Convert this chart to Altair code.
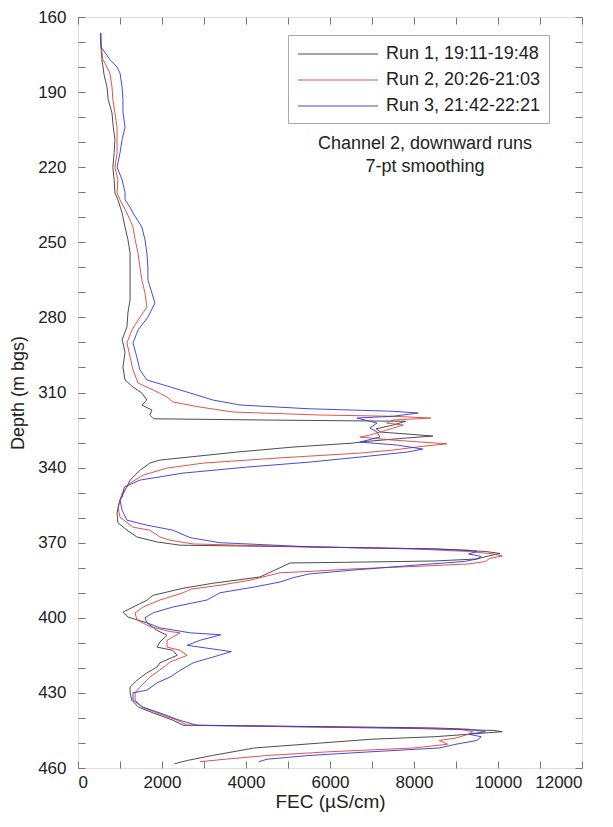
import altair as alt
import pandas as pd

runs = ["Run 1, 19:11-19:48", "Run 2, 20:26-21:03", "Run 3, 21:42-22:21"]
colors = ["#3a3a3a", "#e0403a", "#3434e0"]

# (depth m bgs, FEC uS/cm)
run1 = [(166.4, 540), (171, 545), (177, 570), (183, 620), (188, 690), (193, 720), (198.4, 810),
        (204, 840), (209, 880), (214.3, 860), (220, 830), (225, 860), (230.3, 880), (233, 950),
        (238.3, 1050), (243.9, 1120), (249, 1190), (254.3, 1240), (259.9, 1240), (267.9, 1240),
        (273, 1240), (278, 1190), (283.8, 1165), (289, 1050), (290.2, 1070), (294, 1120),
        (299.8, 1070), (305, 1120), (307.8, 1310), (310.2, 1520), (313, 1640), (315, 1520),
        (317, 1760), (319, 1710), (320.5, 1800), (321, 4500), (321.5, 7800), (323, 7500),
        (324.5, 7100), (325.8, 7200), (326.8, 8000), (327.4, 8450), (328.2, 7800), (329.5, 6900),
        (330.2, 6550), (331.8, 5120), (333.8, 3780), (337, 1950), (338.2, 1710), (341, 1480),
        (345, 1240), (349, 1120), (353, 1000), (358, 930), (362, 950), (365, 1165), (367.7, 1400),
        (369.7, 1880), (371, 2430), (371.7, 5600), (372.5, 8500), (373.5, 9700), (374.3, 10050),
        (375.2, 9800), (376.5, 9500), (377.3, 8500), (377.8, 6500), (378.1, 5050), (380, 4810),
        (383.7, 4330), (386.2, 3210), (388.2, 2500), (391, 1790), (393, 1640), (395.7, 1310),
        (397.8, 1070), (399.7, 1190), (402, 1640), (405, 1880), (407, 2120), (409.7, 1950),
        (411.7, 1880), (413, 2260), (415, 2360), (418, 1950), (419.7, 1880), (422, 1640),
        (425, 1400), (427.7, 1240), (430, 1240), (432.9, 1280), (435.7, 1440), (438, 1790),
        (440.9, 2260), (442.9, 2500), (443.5, 5000), (444.2, 8000), (445, 9900), (445.5, 10100),
        (446.5, 9300), (447.5, 8500), (448.5, 7000), (450, 5800), (452, 4200), (455, 3200),
        (457, 2600), (458.3, 2300)]

run2 = [(166.4, 540), (171, 545), (177, 590), (178.4, 640), (182.4, 760), (188, 810), (193, 830),
        (198.4, 880), (204, 930), (209, 930), (214.3, 930), (220, 880), (225, 950), (230.3, 930),
        (233, 1000), (238.3, 1165), (243.9, 1310), (249, 1360), (254.3, 1430), (259.9, 1475),
        (265, 1520), (270.3, 1595), (275.9, 1640), (279.9, 1475), (285, 1285), (290.2, 1165),
        (295.8, 1240), (301, 1310), (306.2, 1430), (309, 1790), (311.8, 2120), (313.8, 2260),
        (315.8, 2900), (317.8, 3690), (319, 5760), (319.5, 7500), (320.2, 8400), (321, 7500),
        (322.2, 7350), (323, 7740), (325, 7350), (327, 6950), (327.8, 6710), (329, 7500),
        (330.5, 8780), (331.5, 8200), (333, 7500), (334.2, 6710), (336.2, 4740), (338.2, 2980),
        (340.2, 2120), (343, 1550), (346.2, 1240), (350.2, 1050), (355.8, 950), (359.8, 1000),
        (363.8, 1310), (365, 1710), (367.7, 1950), (369, 2190), (370.5, 2740), (371.5, 5000),
        (372.5, 8000), (373.5, 9300), (374.5, 9900), (375.3, 10100), (376.3, 9800), (377.5, 9700),
        (378.5, 9300), (379.5, 8000), (380.5, 6500), (381.5, 5500), (382, 4810), (384, 4330),
        (385, 4090), (387, 3380), (388.5, 2700), (390, 2500), (392.9, 1950), (395.7, 1550),
        (398, 1360), (400.8, 1400), (403.5, 1710), (405.5, 2190), (406, 2430), (409, 2120),
        (411.7, 2120), (413, 2430), (415, 2600), (417.7, 2190), (420, 2020), (423.7, 1710),
        (427.7, 1475), (430, 1360), (432.9, 1360), (435.7, 1520), (438, 1880), (440.9, 2360),
        (442.9, 2600), (443.5, 5500), (444, 8000), (444.5, 9100), (445.5, 9400), (446.5, 9300),
        (448, 9000), (449, 8600), (450.5, 8800), (452, 8000), (453.5, 6000), (455, 4500),
        (456.5, 3500), (457.5, 2900)]

run3 = [(166.4, 540), (172, 550), (177, 760), (180, 930), (182.4, 1000), (188, 1050), (193, 1070),
        (198, 1070), (204, 1120), (209, 1050), (214.3, 1000), (220, 930), (225, 1050), (230, 1120),
        (233, 1120), (236, 1240), (238.3, 1310), (243.9, 1520), (249, 1595), (254.3, 1640),
        (259.9, 1665), (265, 1665), (270.3, 1760), (274.3, 1830), (279.9, 1665), (285, 1430),
        (290.2, 1310), (295.8, 1400), (301, 1475), (305, 1640), (307.8, 2200), (310.2, 2670),
        (313, 3210), (315, 3860), (316.5, 5500), (317.5, 7500), (318.2, 8100), (319.5, 7500),
        (320.2, 6640), (322.2, 7120), (324.2, 6950), (325.8, 7120), (327.8, 7190), (329.8, 6710),
        (331, 7600), (332.6, 8210), (333.8, 7830), (335.8, 6710), (337.8, 5520), (339.8, 4020),
        (342.2, 2500), (345, 1475), (347.8, 1100), (351.8, 1050), (353, 1000), (357, 1050),
        (361, 1165), (363, 1640), (365, 2260), (368, 2670), (370, 3380), (371.7, 5600),
        (372.5, 8500), (373, 9300), (373.5, 9500), (374.5, 9300), (375.5, 9600), (376.5, 9500),
        (377.5, 9200), (379, 8000), (381, 6500), (382.5, 5500), (384, 5120), (385.7, 4810),
        (387.7, 4200), (390, 3380), (392.9, 3070), (395.7, 2260), (398, 1790), (400, 1595),
        (402, 1640), (404, 1950), (406, 2670), (406.8, 3400), (409, 2900), (411, 2600),
        (413.5, 3650), (415.7, 3210), (418, 2740), (421, 2430), (423.7, 2190), (426, 1880),
        (428.9, 1640), (430, 1310), (432.9, 1310), (435.7, 1550), (438, 1950), (441, 2430),
        (442.9, 2830), (443.5, 6000), (444, 8500), (444.5, 9300), (445.5, 9700), (446.5, 9300),
        (447.5, 9600), (449, 9500), (450.5, 9000), (452, 8600), (453.5, 7000), (455, 5500),
        (456.5, 4500), (457.5, 4300)]

notes = ["Channel 2, downward runs", "7-pt smoothing"]

y_ticks = list(range(160, 461, 10))
x_ticks = list(range(0, 12001, 1000))

rows = []
for name, series in zip(runs, [run1, run2, run3]):
    for i, (d, f) in enumerate(series):
        rows.append({"run": name, "depth": d, "fec": f, "idx": i})
df = pd.DataFrame(rows)

FONT = "Liberation Sans"
x_scale = alt.Scale(domain=[0, 12000], nice=False, zero=False)
y_scale = alt.Scale(domain=[160, 460], reverse=True, nice=False, zero=False)

tick_style = dict(domain=False, ticks=True, tickSize=7, tickColor="#777", tickWidth=1,
                  offset=-7, grid=False)

lines = alt.Chart(df).mark_line(strokeWidth=1, opacity=0.9).encode(
    x=alt.X("fec:Q", scale=x_scale,
            axis=alt.Axis(title="FEC (µS/cm)", values=x_ticks, format="d",
                          labelExpr="datum.value % 2000 == 0 ? datum.label : ''",
                          labelPadding=6, labelFontSize=17, labelColor="#222",
                          titleFontSize=19, titleFontWeight="normal", titleColor="#222",
                          titlePadding=2, labelFont=FONT, titleFont=FONT, **tick_style)),
    y=alt.Y("depth:Q", scale=y_scale,
            axis=alt.Axis(title="Depth (m bgs)", values=y_ticks, format="d",
                          labelExpr="(datum.value - 160) % 30 == 0 ? datum.label : ''",
                          labelPadding=12, labelFontSize=17, labelColor="#222",
                          titleFontSize=18, titleFontWeight="normal", titleColor="#222",
                          titlePadding=10, labelFont=FONT, titleFont=FONT, **tick_style)),
    color=alt.Color("run:N", scale=alt.Scale(domain=runs, range=colors),
                    legend=alt.Legend(title=None, orient="none", legendX=210, legendY=18,
                                      symbolType="M-4,0L4,0", symbolSize=400,
                                      symbolStrokeWidth=1.2, symbolOffset=31, labelOffset=37,
                                      labelFontSize=18, labelFont=FONT, labelColor="#222",
                                      strokeColor="#aaa", fillColor="white", padding=8,
                                      rowPadding=6, labelLimit=300)),
    order=alt.Order("idx:Q"),
    detail="run:N",
)

frame_ticks = alt.Chart(df).mark_line(opacity=0).encode(
    x=alt.X("fec:Q", scale=x_scale,
            axis=alt.Axis(orient="top", title="", labels=False, values=x_ticks, **tick_style)),
    y=alt.Y("depth:Q", scale=y_scale,
            axis=alt.Axis(orient="right", title="", labels=False, values=y_ticks, **tick_style)),
    detail="run:N",
)

note_df = pd.DataFrame({"text": notes, "line": [0, 1]})
note_layer = alt.Chart(note_df).mark_text(fontSize=18, font=FONT, color="#222", align="center",
                                          baseline="middle").encode(
    text="text:N",
    x=alt.value(347),
    y=alt.Y("line:Q", axis=None, scale=alt.Scale(domain=[0, 1], range=[127, 150])),
)

chart = alt.layer(lines, frame_ticks, note_layer).resolve_scale(
    x="independent", y="independent"
).properties(
    width=504, height=751,
    autosize=alt.AutoSizeParams(type="none"),
    padding={"left": 70, "top": 9, "right": 23, "bottom": 50},
).configure_view(stroke="#888", strokeWidth=1.5).configure(background="white")

chart.save("out.html", embed_options={"renderer": "svg", "actions": False})
